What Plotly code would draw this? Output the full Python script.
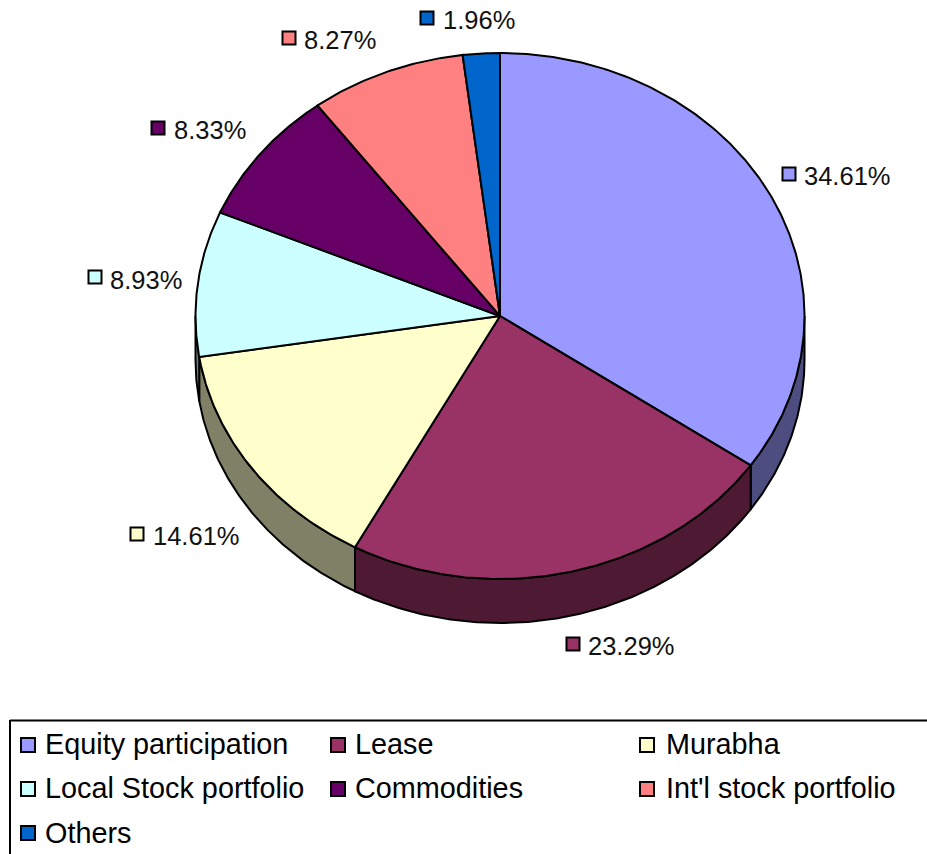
import math
import plotly.graph_objects as go

categories = ["Equity participation", "Lease", "Murabha", "Local Stock portfolio",
              "Commodities", "Int'l stock portfolio", "Others"]
values = [34.61, 23.29, 14.61, 8.93, 8.33, 8.27, 1.96]
colors = ["#9999FF", "#993366", "#FFFFCC", "#CCFFFF", "#660066", "#FF8080", "#0066CC"]
side_colors = ["#4D4D80", "#4D1933", "#808066", "#668080", "#330033", "#804040", "#003366"]

W, H = 927, 854
CX, CY, RX, RY, DEPTH = 500, 316, 304.5, 263, 44
FONT = "Liberation Sans"

label_marker_x = [789, 573, 137, 95, 158, 289, 427]
label_marker_y = [174, 644, 534, 277, 128, 38, 18]
label_text_x = [804, 588, 153, 110, 174, 304, 443]
label_text_y = [179, 649, 539, 283, 133, 43, 23]

legend_marker_x = [28, 338, 647, 28, 338, 647, 28]
legend_marker_y = [745, 745, 745, 789, 789, 789, 833]
legend_text_x = [45, 355, 666, 45, 355, 666, 45]
legend_text_y = [747, 747, 747, 791, 791, 791, 836]


def point(deg, dy=0):
    t = math.radians(deg)
    return CX + RX * math.sin(t), CY - RY * math.cos(t) + dy


def arc(a, b, dy=0):
    n = max(2, int(abs(b - a) * 2))
    return [point(a + (b - a) * i / n, dy) for i in range(n + 1)]


fig = go.Figure()
total = sum(values)
angles = [0]
for v in values:
    angles.append(angles[-1] + 360 * v / total)


def poly(pts, fill):
    pts = pts + [pts[0]]
    fig.add_trace(go.Scatter(
        x=[p[0] for p in pts], y=[p[1] for p in pts], mode="lines",
        fill="toself", fillcolor=fill, line=dict(color="black", width=2),
        hoverinfo="skip", showlegend=False))


# side walls of the visible front half
for i in range(len(values)):
    a, b = max(angles[i], 90), min(angles[i + 1], 270)
    if b > a:
        poly(arc(a, b) + arc(b, a, DEPTH), side_colors[i])

# top faces
for i in range(len(values)):
    poly([(CX, CY)] + arc(angles[i], angles[i + 1]), colors[i])

# value labels
fig.add_trace(go.Scatter(
    x=label_marker_x, y=label_marker_y, mode="markers",
    marker=dict(symbol="square", size=13, color=colors, line=dict(color="black", width=2)),
    hoverinfo="skip", showlegend=False))
fig.add_trace(go.Scatter(
    x=label_text_x, y=label_text_y, mode="text",
    text=[f"{v:.2f}%" for v in values], textposition="middle right",
    textfont=dict(family=FONT, size=25.5, color="#111111"),
    hoverinfo="skip", showlegend=False))

# legend
fig.add_trace(go.Scatter(
    x=legend_marker_x, y=legend_marker_y, mode="markers",
    marker=dict(symbol="square", size=14, color=colors, line=dict(color="black", width=2)),
    hoverinfo="skip", showlegend=False))
fig.add_trace(go.Scatter(
    x=legend_text_x, y=legend_text_y, mode="text",
    text=categories, textposition="middle right",
    textfont=dict(family=FONT, size=28.8, color="black"),
    hoverinfo="skip", showlegend=False))

fig.update_layout(
    width=W, height=H, autosize=False,
    margin=dict(l=0, r=0, t=0, b=0),
    paper_bgcolor="white", plot_bgcolor="white",
    xaxis=dict(range=[0, W], visible=False, fixedrange=True),
    yaxis=dict(range=[H, 0], visible=False, fixedrange=True),
    shapes=[
        dict(type="line", xref="x", yref="y", x0=10, x1=W, y0=720.5, y1=720.5,
             line=dict(color="black", width=2)),
        dict(type="line", xref="x", yref="y", x0=10, x1=10, y0=720, y1=H,
             line=dict(color="black", width=2)),
    ],
)
fig.write_html("out.html", config={"displayModeBar": False},
               post_script="document.body.style.margin='0';")
